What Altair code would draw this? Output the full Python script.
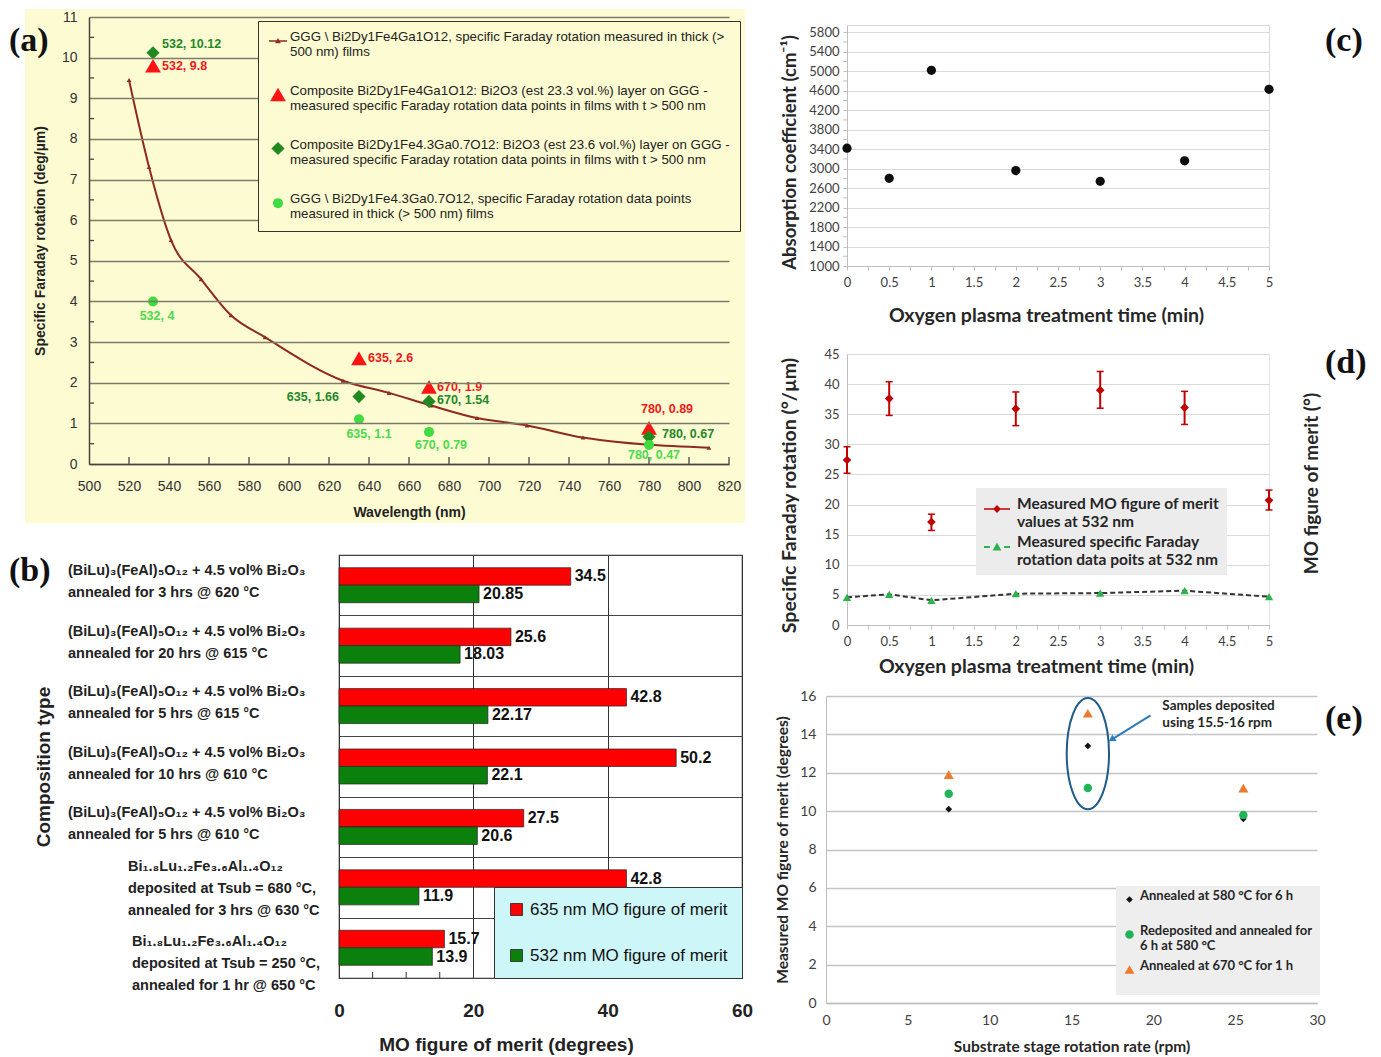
import altair as alt
import pandas as pd

# ---------------- panel (a) data ----------------
a_line_wl = [520, 530, 541, 556, 571, 588, 627, 650, 671, 694, 719, 747, 810]
a_line_val = [9.45, 7.31, 5.51, 4.55, 3.66, 3.12, 2.05, 1.75, 1.44, 1.13, 0.95, 0.65, 0.40]
a_pt_wl = [532, 635, 670, 780]
a_red_val = [9.8, 2.6, 1.9, 0.89]
a_dkgreen_val = [10.12, 1.66, 1.54, 0.67]
a_ltgreen_val = [4, 1.1, 0.79, 0.47]
a_series = [
    "GGG \\ Bi2Dy1Fe4Ga1O12, specific Faraday rotation measured in thick (>|500 nm) films",
    "Composite  Bi2Dy1Fe4Ga1O12: Bi2O3 (est 23.3 vol.%)  layer on GGG -|measured specific Faraday rotation data points in films with t > 500 nm",
    "Composite Bi2Dy1Fe4.3Ga0.7O12: Bi2O3 (est 23.6 vol.%) layer on GGG -|measured specific Faraday rotation data points in films with t > 500 nm",
    "GGG \\ Bi2Dy1Fe4.3Ga0.7O12, specific Faraday rotation data points|measured in thick (> 500 nm) films",
]
a_xtick_values = list(range(520, 821, 20))
a_ytick_minor = [0.5, 1.5, 2.5, 3.5, 4.5, 5.5, 6.5, 7.5, 8.5, 9.5, 10.5]

# ---------------- panel (b) data ----------------
b_categories = [
    "(BiLu)₃(FeAl)₅O₁₂ + 4.5 vol% Bi₂O₃|annealed for 3 hrs @ 620 °C",
    "(BiLu)₃(FeAl)₅O₁₂ + 4.5 vol% Bi₂O₃|annealed for 20 hrs @ 615 °C",
    "(BiLu)₃(FeAl)₅O₁₂ + 4.5 vol% Bi₂O₃|annealed for 5 hrs @ 615 °C",
    "(BiLu)₃(FeAl)₅O₁₂ + 4.5 vol% Bi₂O₃|annealed for 10 hrs @ 610 °C",
    "(BiLu)₃(FeAl)₅O₁₂ + 4.5 vol% Bi₂O₃|annealed for 5 hrs @ 610 °C",
    "Bi₁.₈Lu₁.₂Fe₃.₆Al₁.₄O₁₂|deposited at Tsub = 680 °C,|annealed for 3 hrs @ 630 °C",
    "Bi₁.₈Lu₁.₂Fe₃.₆Al₁.₄O₁₂|deposited at Tsub = 250 °C,|annealed for 1 hr @ 650 °C",
]
b_635 = [34.5, 25.6, 42.8, 50.2, 27.5, 42.8, 15.7]
b_532 = [20.85, 18.03, 22.17, 22.1, 20.6, 11.9, 13.9]
b_series = ["635 nm MO figure of merit", "532 nm MO figure of merit"]
b_xtick_minor = [5, 10, 15, 25, 30, 35, 45, 50, 55]

# ---------------- panel (c) data ----------------
c_time = [0, 0.5, 1, 2, 3, 4, 5]
c_abs = [3420, 2800, 5020, 2960, 2740, 3160, 4630]
c_ytick_minor = list(range(1200, 5801, 400))

# ---------------- panel (d) data ----------------
d_time = [0, 0.5, 1, 2, 3, 4, 5]
d_mo = [27.4, 37.6, 17.1, 35.9, 39.0, 36.1, 20.7]
d_mo_lo = [25.2, 34.8, 15.7, 33.1, 36.0, 33.3, 19.1]
d_mo_hi = [29.6, 40.4, 18.4, 38.7, 42.1, 38.8, 22.4]
d_sfr = [4.6, 5.1, 4.1, 5.2, 5.3, 5.7, 4.7]
d_series = ["Measured MO figure of merit|values at 532 nm",
            "Measured specific Faraday|rotation data poits at 532 nm"]

# ---------------- panel (e) data ----------------
e_rate = [7.5, 16, 25.5]
e_580 = [10.1, 13.4, 9.6]
e_redep = [10.9, 11.2, 9.8]
e_670 = [11.9, 15.1, 11.2]
e_series = ["Annealed at 580 °C for 6 h| ",
            "Redeposited and annealed for|6 h at 580 °C",
            "Annealed at 670 °C for 1 h| "]
e_circle_center = [16, 13.0]
e_arrow = [19.83, 14.99, 17.45, 13.73]
e_note_pos = [20.55, 15.48]
e_note = ["Samples deposited", "using 15.5-16 rpm"]

SANS = "Liberation Sans"
SERIF = "Liberation Serif"
CAL = "Lato"

INDEP = dict(color="independent", shape="independent", size="independent")


def tag(text, x, y):
    return alt.Chart(pd.DataFrame({"t": [text]})).mark_text(
        font=SERIF, fontSize=34, fontWeight="bold", align="left", baseline="middle", color="#111"
    ).encode(x=alt.value(x), y=alt.value(y), text="t:N")


def spacer(w, h):
    return alt.Chart(pd.DataFrame({"s": [0]})).mark_point(opacity=0, size=1).encode(
        x=alt.value(0), y=alt.value(0)).properties(
        width=w, height=h, view=alt.ViewBackground(stroke="transparent"))


# =============== (a) ===============
beige = "#fdfbd1"
brown = "#8e2a1e"
a_cols = [brown, "#ff1414", "#208a20", "#3edc3e"]
line_path = "M-1,-0.08H1V0.08H-1Z M0,-0.34L0.32,0.24H-0.32Z"

df_a_line = pd.DataFrame({"wl": a_line_wl, "val": a_line_val})
rows = []
for key, vals in [(a_series[1], a_red_val), (a_series[2], a_dkgreen_val), (a_series[3], a_ltgreen_val)]:
    for w, v in zip(a_pt_wl, vals):
        rows.append({"wl": w, "val": v, "series": key, "label": f"{w}, {v:g}"})
df_a_pts = pd.DataFrame(rows)
df_a_pts["idx"] = list(range(len(df_a_pts)))

xA = alt.X("wl:Q", scale=alt.Scale(domain=[500, 820], nice=False, zero=False),
           axis=alt.Axis(title="Wavelength (nm)", values=list(range(500, 821, 20)), grid=False,
                         ticks=False, domainColor="#444", domainWidth=1.5, labelFlush=False,
                         labelFont=SANS, labelFontSize=14, labelColor="#333", labelPadding=15,
                         titleFont=SANS, titleFontSize=14, titleFontWeight="bold", titleColor="#222",
                         titlePadding=12, zindex=1))
yA = alt.Y("val:Q", scale=alt.Scale(domain=[0, 11], nice=False),
           axis=alt.Axis(title="Specific Faraday rotation (deg/µm)", values=list(range(0, 12)), grid=True,
                         gridColor="#7c7b6c", gridWidth=1.3, ticks=False, labelFlush=False,
                         domainColor="#444", domainWidth=1.5,
                         labelFont=SANS, labelFontSize=14, labelColor="#333", labelPadding=12,
                         titleFont=SANS, titleFontSize=14, titleFontWeight="bold", titleColor="#222",
                         titlePadding=14, zindex=1))

bg_a = alt.Chart(pd.DataFrame({"z": [0]})).mark_rect(color=beige).encode(
    x=alt.value(-64), x2=alt.value(656), y=alt.value(-8), y2=alt.value(506))
xt_a = alt.Chart(pd.DataFrame({"wl": a_xtick_values})).mark_rule(color="#444", strokeWidth=1.3).encode(
    x=xA, y=alt.value(447), y2=alt.value(440))
yt_a = alt.Chart(pd.DataFrame({"val": a_ytick_minor})).mark_rule(color="#444", strokeWidth=1.3).encode(
    y=yA, x=alt.value(0), x2=alt.value(5))
line_a = alt.Chart(df_a_line).mark_line(color=brown, strokeWidth=2, interpolate="monotone").encode(x=xA, y=yA)
linepts_a = alt.Chart(df_a_line).mark_point(shape="triangle-up", filled=True, color=brown, size=22,
                                            opacity=1).encode(x=xA, y=yA)
leg_a = alt.Legend(title=None, orient="none", legendX=169, legendY=4, fillColor=beige, strokeColor="#333",
                   padding=10, labelFont=SANS, labelFontSize=13.3, labelFontWeight="normal", labelColor="#222",
                   labelExpr="split(datum.label, '|')", labelLimit=700, labelOffset=2,
                   labelBaseline="alphabetic", rowPadding=24.5, zindex=2)
pts_a = alt.Chart(df_a_pts).mark_point(filled=True, opacity=1).encode(
    x=xA, y=yA,
    color=alt.Color("series:N", scale=alt.Scale(domain=a_series, range=a_cols), legend=leg_a),
    shape=alt.Shape("series:N", scale=alt.Scale(domain=a_series,
                                                range=[line_path, "triangle-up", "diamond", "circle"]),
                    legend=leg_a),
    size=alt.Size("series:N", scale=alt.Scale(domain=a_series, range=[324, 100, 70, 81]), legend=leg_a),
)
lab_cols = ["#f01818"] * 4 + ["#23882a"] * 4 + ["#4cd94c"] * 4
lab_style = [("left", 9, 0), ("left", 9, 0), ("left", 8, 0), ("center", 18, -19),
             ("left", 9, -9), ("right", -20, 0), ("left", 8, -1), ("left", 13, -3),
             ("center", 4, 15), ("center", 10, 15), ("center", 12, 13), ("center", 5, 10)]
labels_a = []
for i, (al, dx, dy) in enumerate(lab_style):
    labels_a.append(alt.Chart(df_a_pts).transform_filter(f"datum.idx == {i}").mark_text(
        font=SANS, fontSize=12.5, fontWeight="bold", align=al, dx=dx, dy=dy, baseline="middle",
        color=lab_cols[i]).encode(x=xA, y=yA, text="label:N"))

a_chart = alt.layer(bg_a, xt_a, yt_a, line_a, linepts_a, pts_a, *labels_a, tag("(a)", -80, 24)).properties(
    width=640, height=447, view=alt.ViewBackground(stroke="transparent"))

# =============== (b) ===============
df_b = pd.DataFrame({
    "cat": b_categories * 2,
    "series": [b_series[0]] * 7 + [b_series[1]] * 7,
    "value": b_635 + b_532,
})
df_b_lab = pd.DataFrame({"cat": b_categories, "ci": list(range(7))})
yB = alt.Y("cat:N", sort=None, scale=alt.Scale(domain=b_categories, paddingInner=0, paddingOuter=0),
           axis=alt.Axis(title="Composition type", titleFont=SANS, titleFontSize=19, titleFontWeight="bold",
                         titleColor="#222", titleX=-296, titleY=211.5, titleAngle=270, titleAlign="center",
                         titleBaseline="middle", labels=False,
                         tickBand="extent", grid=True, gridColor="#444", gridWidth=1,
                         ticks=False, domain=False))
yoB = alt.YOffset("series:N", scale=alt.Scale(domain=b_series, paddingOuter=0.725, paddingInner=0))
xB = alt.X("value:Q", scale=alt.Scale(domain=[0, 60], nice=False),
           axis=alt.Axis(title="MO figure of merit (degrees)", values=[0, 20, 40, 60], grid=True,
                         gridColor="#333", gridWidth=1, ticks=False, domain=False, labelFlush=False,
                         labelFont=SANS, labelFontSize=19, labelFontWeight="bold", labelColor="#222",
                         labelPadding=23, titleFont=SANS, titleFontSize=19, titleFontWeight="bold",
                         titleColor="#222", titleX=167, titleY=66, titleBaseline="middle"))
leg_b = alt.Legend(title=None, orient="bottom-right", offset=0, fillColor="#cdf6f9", strokeColor="#333",
                   padding=14, rowPadding=28, symbolType="square", symbolSize=144,
                   symbolStrokeColor="#222", symbolStrokeWidth=0.8, labelFont=SANS, labelFontSize=17,
                   labelColor="#111", labelOffset=5, labelLimit=400)
xt_b = alt.Chart(pd.DataFrame({"value": b_xtick_minor})).mark_rule(color="#333", strokeWidth=1).encode(
    x=xB, y=alt.value(423), y2=alt.value(417))
bars_b = alt.Chart(df_b).mark_bar(stroke="#222", strokeWidth=0.7).encode(
    y=yB, yOffset=yoB, x=xB,
    color=alt.Color("series:N", scale=alt.Scale(domain=b_series, range=["#ff0000", "#0c800c"]), legend=leg_b))
text_b = alt.Chart(df_b).mark_text(align="left", dx=4, baseline="middle", font=SANS, fontSize=16,
                                   fontWeight="bold", color="#111").encode(
    y=yB, yOffset=yoB, x=xB, text=alt.Text("value:Q"))
cat_label_style = [(-271, -14, [0, 1, 2, 3, 4]), (-211, -20, [5]), (-207, -6, [6])]
cat_labels_b = []
for xo, dy, idxs in cat_label_style:
    cat_labels_b.append(
        alt.Chart(df_b_lab).transform_filter(alt.FieldOneOfPredicate(field="ci", oneOf=idxs))
        .transform_calculate(lines="split(datum.cat, '|')")
        .mark_text(align="left", baseline="middle", font=SANS, fontSize=14.5, fontWeight="bold",
                   color="#222", lineHeight=22, dy=dy)
        .encode(y=yB, x=alt.value(xo), text="lines:N"))
b_chart = alt.layer(bars_b, xt_b, text_b, *cat_labels_b, tag("(b)", -330, 16)).properties(
    width=403, height=423, view=alt.ViewBackground(stroke="#333", strokeWidth=1.2))

# =============== (c) ===============
half_expr = "abs(datum.value*2 - round(datum.value*2)) < 0.001 ? datum.label : ''"


def time_axis(tx, ty):
    return alt.Axis(title="Oxygen plasma treatment time (min)", values=[i * 0.25 for i in range(21)],
                    labelExpr=half_expr, format="~g", labelOverlap=False, grid=False, labelFlush=False,
                    ticks=True, tickSize=4, tickColor="#bfbfbf", domainColor="#bfbfbf",
                    labelFont=CAL, labelFontSize=13, labelColor="#404040", labelPadding=6,
                    titleFont=CAL, titleFontSize=19.5, titleFontWeight="bold", titleColor="#262626",
                    titleX=tx, titleY=ty, titleBaseline="middle", titleAlign="center")


df_c = pd.DataFrame({"t": c_time, "a": c_abs})
xC = alt.X("t:Q", scale=alt.Scale(domain=[0, 5], nice=False), axis=time_axis(199, 49))
yC = alt.Y("a:Q", scale=alt.Scale(domain=[1000, 5950], nice=False, zero=False),
           axis=alt.Axis(title="Absorption coefficient (cm⁻¹)", values=list(range(1000, 5801, 400)),
                         format="d", labelOverlap=False, grid=True, gridColor="#d9d9d9", labelFlush=False,
                         ticks=True, tickSize=4, tickColor="#bfbfbf", domainColor="#bfbfbf",
                         labelFont=CAL, labelFontSize=13, labelColor="#404040", labelPadding=4,
                         titleFont=CAL, titleFontSize=18.5, titleFontWeight="bold", titleColor="#262626",
                         titleX=-58, titleY=127, titleAngle=270, titleBaseline="middle", titleAlign="center"))
yt_c = alt.Chart(pd.DataFrame({"a": c_ytick_minor})).mark_rule(color="#bfbfbf", strokeWidth=1).encode(
    y=yC, x=alt.value(-4), x2=alt.value(0))
pts_c = alt.Chart(df_c).mark_circle(size=85, color="#0d0d0d", opacity=1).encode(x=xC, y=yC)
c_chart = alt.layer(yt_c, pts_c, tag("(c)", 478, 16)).properties(
    width=422, height=241, view=alt.ViewBackground(stroke="#d9d9d9"))

# =============== (d) ===============
df_d = pd.DataFrame({"t": d_time, "mo": d_mo, "lo": d_mo_lo, "hi": d_mo_hi, "sfr": d_sfr})
df_d_leg = pd.DataFrame({"series": d_series})
xD = alt.X("t:Q", scale=alt.Scale(domain=[0, 5], nice=False), axis=time_axis(189, 41))
yD = alt.Y("sfr:Q", scale=alt.Scale(domain=[0, 45], nice=False),
           axis=alt.Axis(title="Specific Faraday rotation (°/µm)", values=list(range(0, 46, 5)), grid=True,
                         gridColor="#d9d9d9", ticks=False, domainColor="#bfbfbf", labelFlush=False,
                         labelFont=CAL, labelFontSize=13, labelColor="#404040", labelPadding=8,
                         titleFont=CAL, titleFontSize=19.5, titleFontWeight="bold", titleColor="#262626",
                         titleX=-58, titleY=141, titleAngle=270, titleBaseline="middle", titleAlign="center"))
axis_dr = alt.Axis(orient="right", title="MO figure of merit (°)", labels=False, ticks=False, domain=False,
                   grid=False, titleFont=CAL, titleFontSize=19, titleFontWeight="bold", titleColor="#262626",
                   titleAngle=270, titleX=42, titleY=129, titleBaseline="middle", titleAlign="center")
scale_dr = alt.Scale(domain=[0, 45], nice=False)
d_red = "#c00000"
d_green = "#2bb24c"
red_leg_path = "M-1,-0.06H1V0.06H-1Z M0,-0.3L0.3,0L0,0.3L-0.3,0Z"
green_leg_path = "M-1,-0.07H-0.55V0.07H-1Z M0.55,-0.07H1V0.07H0.55Z M0,-0.34L0.34,0.26H-0.34Z"
leg_d = alt.Legend(title=None, orient="none", legendX=129, legendY=134, fillColor="#ececec", padding=7,
                   labelFont=CAL, labelFontSize=15.5, labelFontWeight="bold", labelColor="#262626",
                   labelExpr="split(datum.label, '|')", labelLimit=400, labelOffset=6,
                   labelBaseline="alphabetic", rowPadding=3, symbolSize=676)

line_d = alt.Chart(df_d).mark_line(color="#333", strokeDash=[5, 3], strokeWidth=2).encode(x=xD, y=yD)
tri_d = alt.Chart(df_d).mark_point(shape="triangle-up", filled=True, color=d_green, size=70,
                                   opacity=1).encode(x=xD, y=yD)
legsrc_d = alt.Chart(df_d_leg).transform_filter("false").mark_point(filled=True, opacity=1).encode(
    color=alt.Color("series:N", scale=alt.Scale(domain=d_series, range=[d_red, d_green]), legend=leg_d),
    shape=alt.Shape("series:N", scale=alt.Scale(domain=d_series, range=[red_leg_path, green_leg_path]),
                    legend=leg_d))
left_d = alt.layer(line_d, tri_d, legsrc_d)

err_d = alt.Chart(df_d).mark_rule(color=d_red, strokeWidth=2).encode(
    x=xD, y=alt.Y("lo:Q", scale=scale_dr, axis=axis_dr), y2="hi:Q")
caplo_d = alt.Chart(df_d).mark_point(shape="stroke", filled=False, color=d_red, size=49, strokeWidth=1.5,
                                     opacity=1).encode(x=xD, y=alt.Y("lo:Q", scale=scale_dr, axis=axis_dr))
caphi_d = alt.Chart(df_d).mark_point(shape="stroke", filled=False, color=d_red, size=49, strokeWidth=1.5,
                                     opacity=1).encode(x=xD, y=alt.Y("hi:Q", scale=scale_dr, axis=axis_dr))
dia_d = alt.Chart(df_d).mark_point(shape="diamond", filled=True, color=d_red, size=75, opacity=1).encode(
    x=xD, y=alt.Y("mo:Q", scale=scale_dr, axis=axis_dr))
right_d = alt.layer(err_d, caplo_d, caphi_d, dia_d)

d_chart = alt.layer(left_d, right_d, tag("(d)", 478, 9)).resolve_scale(y="independent").properties(
    width=422, height=271, view=alt.ViewBackground(stroke="#e3e3e3"))

# =============== (e) ===============
rows = []
for key, vals in zip(e_series, [e_580, e_redep, e_670]):
    for r, v in zip(e_rate, vals):
        rows.append({"rate": r, "mo": v, "series": key})
df_e = pd.DataFrame(rows)
xE = alt.X("rate:Q", scale=alt.Scale(domain=[0, 30], range=[-21, 470], nice=False),
           axis=alt.Axis(title="Substrate stage rotation rate (rpm)", values=list(range(0, 31, 5)), grid=False,
                         ticks=False, domainColor="#bfbfbf", domainWidth=1.5, labelFlush=False,
                         labelFont=CAL, labelFontSize=14, labelColor="#404040", labelPadding=10,
                         titleFont=CAL, titleFontSize=15.5, titleFontWeight="bold", titleColor="#262626",
                         titlePadding=12))
yE = alt.Y("mo:Q", scale=alt.Scale(domain=[0, 16], nice=False),
           axis=alt.Axis(title="Measured MO figure of merit (degrees)", values=list(range(0, 17, 2)), grid=True,
                         gridColor="#c4c4c4", gridWidth=1.5, ticks=False, domainColor="#bfbfbf", offset=21,
                         labelFlush=False,
                         labelFont=CAL, labelFontSize=14, labelColor="#404040", labelPadding=10,
                         titleFont=CAL, titleFontSize=15.5, titleFontWeight="bold", titleColor="#262626",
                         titlePadding=9))
leg_e = alt.Legend(title=None, orient="none", legendX=269, legendY=190, fillColor="#eeeeee", padding=7,
                   labelFont=CAL, labelFontSize=13, labelFontWeight="bold", labelColor="#262626",
                   labelExpr="split(datum.label, '|')", labelLimit=400, labelOffset=4,
                   labelBaseline="alphabetic", rowPadding=6)
pts_e = alt.Chart(df_e).mark_point(filled=True, opacity=1).encode(
    x=xE, y=yE,
    color=alt.Color("series:N", scale=alt.Scale(domain=e_series, range=["#111111", "#22b45a", "#ee7a2e"]),
                    legend=leg_e),
    shape=alt.Shape("series:N", scale=alt.Scale(domain=e_series, range=["diamond", "circle", "triangle-up"]),
                    legend=leg_e),
    size=alt.Size("series:N", scale=alt.Scale(domain=e_series, range=[45, 100, 100]), legend=leg_e))
ell_path = "M0,-1A0.38,1 0 1,1 0,1A0.38,1 0 1,1 0,-1Z"
ell_e = alt.Chart(pd.DataFrame({"rate": [e_circle_center[0]], "mo": [e_circle_center[1]]})).mark_point(
    shape=ell_path, filled=False, color="#1f5a8a", strokeWidth=2, size=12400, opacity=1).encode(x=xE, y=yE)
df_arrow = pd.DataFrame({"rate": [e_arrow[0]], "mo": [e_arrow[1]], "rate2": [e_arrow[2]], "mo2": [e_arrow[3]]})
df_head = pd.DataFrame({"rate": [e_arrow[2]], "mo": [e_arrow[3]]})
arrow_e = alt.Chart(df_arrow).mark_rule(color="#2b7bbd", strokeWidth=2).encode(
    x=xE, y=yE, x2="rate2:Q", y2="mo2:Q")
head_e = alt.Chart(df_head).mark_point(shape="triangle-up", filled=True, color="#2b7bbd", size=60,
                                       angle=238, opacity=1).encode(x=xE, y=yE)
note_e = alt.Chart(pd.DataFrame({"rate": [e_note_pos[0]], "mo": [e_note_pos[1]]})).mark_text(
    text=e_note, align="left", baseline="middle", font=CAL, fontSize=13.5, fontWeight="bold",
    color="#262626", lineHeight=17).encode(x=xE, y=yE)
e_chart = alt.layer(pts_e, ell_e, arrow_e, head_e, note_e, tag("(e)", 478, 23)).properties(
    width=470, height=307, view=alt.ViewBackground(stroke="transparent"))

# =============== layout ===============
row_b = alt.hconcat(spacer(250, 10), b_chart, spacing=0, bounds="flush").resolve_scale(**INDEP)
left = alt.vconcat(a_chart, row_b, spacing=91, bounds="flush").resolve_scale(**INDEP)
right = alt.vconcat(spacer(1, 8), c_chart, spacer(1, 88), d_chart, spacer(1, 71), e_chart,
                    spacing=0, bounds="flush").resolve_scale(**INDEP)
chart = alt.hconcat(left, right, spacing=21, bounds="full").resolve_scale(**INDEP).properties(padding=0)

chart.save("out.html", embed_options={"renderer": "svg", "actions": False})
